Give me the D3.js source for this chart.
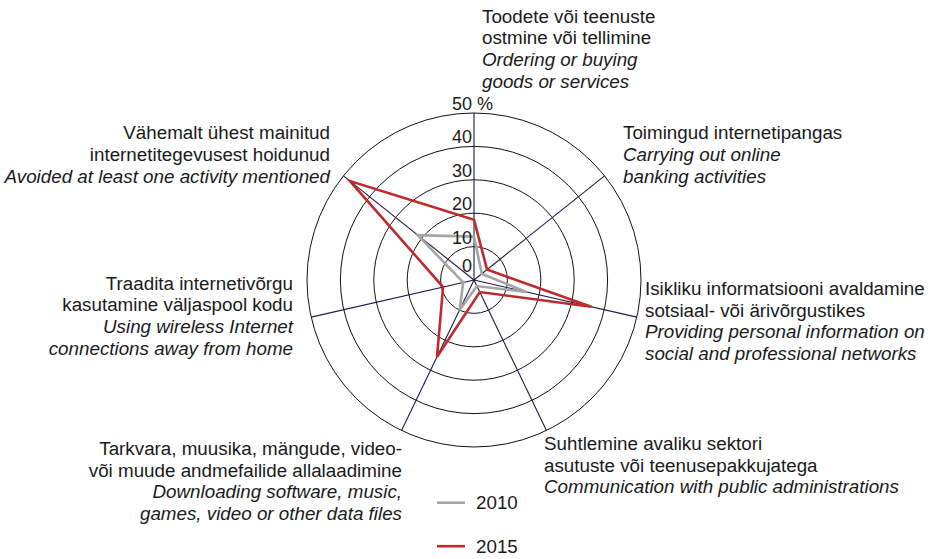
<!DOCTYPE html>
<html>
<head>
<meta charset="utf-8">
<script src="https://cdn.jsdelivr.net/npm/d3@7"></script>
<style>
  body { margin: 0; background: #fff; }
  svg text { font-family: "Liberation Sans", Arial, sans-serif; font-size: 18.8px; fill: #1a1a1a; }
  svg text.tick { font-size: 18px; }
</style>
</head>
<body>
<svg></svg>
<script>
"use strict";

// categories, clockwise from the top
var labelsEt = [
  ["Toodete või teenuste", "ostmine või tellimine"],
  ["Toimingud internetipangas"],
  ["Isikliku informatsiooni avaldamine", "sotsiaal- või ärivõrgustikes"],
  ["Suhtlemine avaliku sektori", "asutuste või teenusepakkujatega"],
  ["Tarkvara, muusika, mängude, video-", "või muude andmefailide allalaadimine"],
  ["Traadita internetivõrgu", "kasutamine väljaspool kodu"],
  ["Vähemalt ühest mainitud", "internetitegevusest hoidunud"]
];
var labelsEn = [
  ["Ordering or buying", "goods or services"],
  ["Carrying out online", "banking activities"],
  ["Providing personal information on", "social and professional networks"],
  ["Communication with public administrations"],
  ["Downloading software, music,", "games, video or other data files"],
  ["Using wireless Internet", "connections away from home"],
  ["Avoided at least one activity mentioned"]
];

var years = ["2010", "2015"];
var values2010 = [13, 3, 16, 2, 10, 3.3, 21.5];
var values2015 = [18, 5, 36, 4, 25.5, 9.5, 47.5];
var ticks = [0, 10, 20, 30, 40, 50];

var width = 928, height = 559;
var cx = 474, cy = 280;

var svg = d3.select("svg").attr("width", width).attr("height", height);

var r = d3.scaleLinear().domain([0, 50]).range([0, 167]);
var angle = d3.scaleLinear().domain([0, labelsEt.length]).range([0, 2 * Math.PI]);
var color = d3.scaleOrdinal().domain(years).range(["#a5a5a5", "#be2a2e"]);

var g = svg.append("g").attr("transform", "translate(" + cx + "," + cy + ")");

// rings
g.append("g").selectAll("circle").data(ticks.slice(1)).enter().append("circle")
  .attr("r", function (d) { return r(d); })
  .attr("fill", "none").attr("stroke", "#111").attr("stroke-width", 1);

// spokes
g.append("g").selectAll("line").data(labelsEt).enter().append("line")
  .attr("x1", 0).attr("y1", 0)
  .attr("x2", function (d, i) { return r(50) * Math.sin(angle(i)); })
  .attr("y2", function (d, i) { return -r(50) * Math.cos(angle(i)); })
  .attr("stroke", "#1c1c44").attr("stroke-width", 1.1);

// series
var series = [
  { year: "2010", values: values2010 },
  { year: "2015", values: values2015 }
];
var radar = d3.lineRadial()
  .angle(function (d, i) { return angle(i); })
  .radius(function (d) { return r(d); })
  .curve(d3.curveLinearClosed);

g.append("g").selectAll("path").data(series).enter().append("path")
  .attr("d", function (d) { return radar(d.values); })
  .attr("fill", "none")
  .attr("stroke", function (d) { return color(d.year); })
  .attr("stroke-width", 2.6)
  .attr("stroke-linejoin", "miter");

// tick labels along the top spoke
g.append("g").selectAll("text").data(ticks).enter().append("text")
  .attr("class", "tick")
  .attr("x", -2)
  .attr("y", function (d) { return d === 0 ? -8 : -r(d) - 3; })
  .attr("text-anchor", "end")
  .text(function (d) { return d; });
g.append("text").attr("class", "tick").attr("x", 3).attr("y", -r(50) - 3).text("%");

// category labels (layout only)
var labelPos = [
  { x: 482, y: 22.7, anchor: "start" },
  { x: 623, y: 139.3, anchor: "start" },
  { x: 645, y: 295, anchor: "start" },
  { x: 544, y: 450, anchor: "start" },
  { x: 402, y: 455, anchor: "end" },
  { x: 293, y: 289.5, anchor: "end" },
  { x: 330, y: 139.3, anchor: "end" }
];
var lineH = 21.7;

var lab = svg.append("g").selectAll("text").data(labelsEt).enter().append("text")
  .attr("text-anchor", function (d, i) { return labelPos[i].anchor; });

lab.each(function (d, i) {
  var t = d3.select(this);
  var p = labelPos[i];
  var lines = d.map(function (s) { return { s: s, it: false }; })
    .concat(labelsEn[i].map(function (s) { return { s: s, it: true }; }));
  lines.forEach(function (l, k) {
    t.append("tspan")
      .attr("x", p.x)
      .attr("y", p.y + k * lineH)
      .style("font-style", l.it ? "italic" : "normal")
      .text(l.s);
  });
});

// legend
var leg = svg.append("g").selectAll("g").data(years).enter().append("g")
  .attr("transform", function (d, i) { return "translate(437," + (502.7 + i * 43.5) + ")"; });
leg.append("line").attr("x1", 0).attr("x2", 28).attr("y1", 0).attr("y2", 0)
  .attr("stroke", function (d) { return color(d); }).attr("stroke-width", 2.6);
leg.append("text").attr("x", 39).attr("y", 6.5).text(function (d) { return d; });
</script>
</body>
</html>
